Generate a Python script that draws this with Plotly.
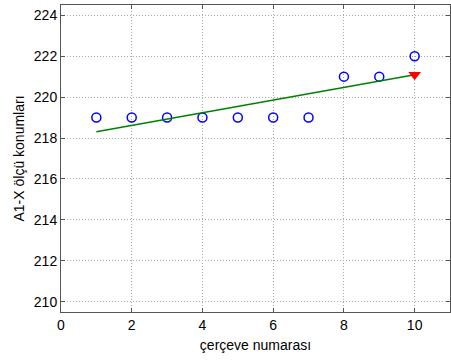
import plotly.graph_objects as go

frames = [1, 2, 3, 4, 5, 6, 7, 8, 9, 10]
positions = [219, 219, 219, 219, 219, 219, 219, 221, 221, 222]
fit_x = [1, 10]
fit_y = [218.31, 221.09]
pred_x = [10]
pred_y = [221.09]
xticks = [0, 2, 4, 6, 8, 10]
yticks = [210, 212, 214, 216, 218, 220, 222, 224]

fig = go.Figure()
fig.add_trace(go.Scatter(x=frames, y=positions, mode="markers",
                         marker=dict(symbol="circle-open", size=9, color="blue", line=dict(width=1.5))))
fig.add_trace(go.Scatter(x=fit_x, y=fit_y, mode="lines", line=dict(color="green", width=1.5)))
fig.add_trace(go.Scatter(x=pred_x, y=pred_y, mode="markers",
                         marker=dict(symbol="triangle-down", size=11, color="red")))

font = "Liberation Sans, Arial"
axis_common = dict(showline=True, mirror="ticks", linecolor="#555555", linewidth=1,
                   ticks="inside", ticklen=4, tickcolor="#555555",
                   showgrid=True, gridcolor="#a8a8a8", griddash="1px,2px", gridwidth=1,
                   zeroline=False, tickfont=dict(family=font, size=14, color="black"))

fig.update_layout(
    width=451, height=363, margin=dict(l=61, r=1, t=5, b=51),
    paper_bgcolor="white", plot_bgcolor="white", showlegend=False,
    xaxis=dict(range=[0, 11], tickvals=xticks, **axis_common,
               title=dict(text="çerçeve numarası", font=dict(family=font, size=14, color="black"), standoff=8)),
    yaxis=dict(range=[209.5, 224.5], tickvals=yticks, **axis_common,
               title=dict(text="A1-X ölçü konumları", font=dict(family=font, size=14, color="black"), standoff=5)),
)
fig.write_html("out.html")
